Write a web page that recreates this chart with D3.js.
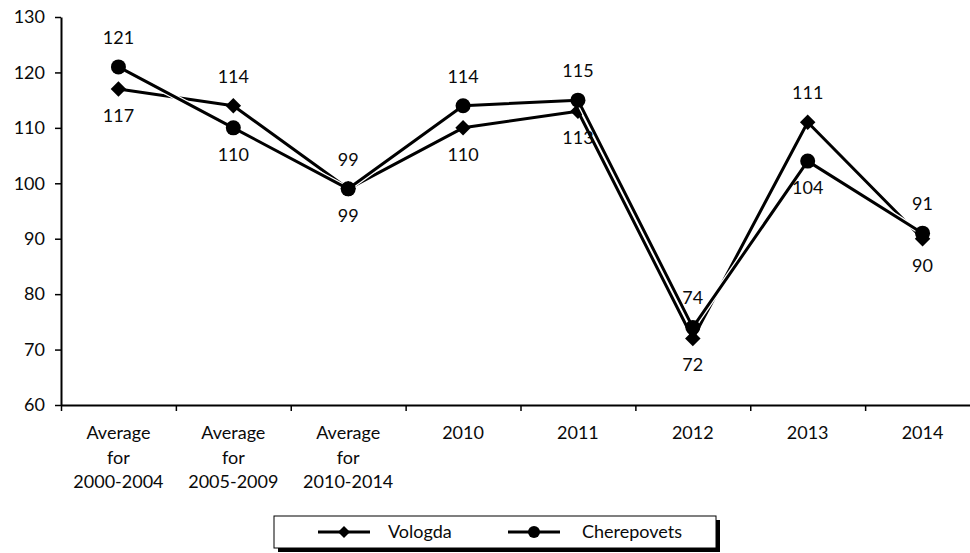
<!DOCTYPE html>
<html>
<head>
<meta charset="utf-8">
<script src="https://cdn.jsdelivr.net/npm/d3@7"></script>
<style>
  html, body { margin: 0; padding: 0; background: #fff; }
  svg { display: block; }
  text { font-family: Lato, "Open Sans", sans-serif; fill: #0a0a0a; }
</style>
</head>
<body>
<svg id="chart" width="970" height="553"></svg>
<script>
// Categories (multi-line labels) and series values
const categories = [
  ["Average", "for", "2000-2004"],
  ["Average", "for", "2005-2009"],
  ["Average", "for", "2010-2014"],
  ["2010"], ["2011"], ["2012"], ["2013"], ["2014"]
];
const vologda     = [117, 114, 99, 110, 113, 72, 111, 90];
const cherepovets = [121, 110, 99, 114, 115, 74, 104, 91];
// Label placement for each point: true = above the marker
const vologdaAbove     = [false, true, false, false, false, false, true, false];
const cherepovetsAbove = [true, false, true, true, true, true, false, true];
const yTicks = [60, 70, 80, 90, 100, 110, 120, 130];

const svg = d3.select("#chart");
const x0 = 61, x1 = 980, yTop = 17, yBot = 405;
const fs = "18px";

const x = d3.scaleBand().domain(d3.range(categories.length)).range([x0, x1]);
const y = d3.scaleLinear().domain([60, 130]).range([yBot, yTop]);
const cx = i => x(i) + x.bandwidth() / 2;

// Y axis
const yAxis = svg.append("g").attr("transform", `translate(${x0},0)`)
  .call(d3.axisLeft(y).tickValues(yTicks).tickSize(6).tickPadding(10).tickSizeOuter(0));
yAxis.select(".domain").attr("stroke", "#000").attr("stroke-width", 2);
yAxis.selectAll(".tick line").attr("stroke", "#000").attr("stroke-width", 1.5);
yAxis.selectAll(".tick text").style("font-size", fs).attr("fill", "#0a0a0a");

// X axis with ticks at category boundaries
const bounds = d3.range(categories.length + 1).map(i => x0 + i * x.step());
const xScaleLin = d3.scaleLinear().domain([x0, x1]).range([x0, x1]);
const xAxis = svg.append("g").attr("transform", `translate(0,${yBot})`)
  .call(d3.axisBottom(xScaleLin).tickValues(bounds).tickSize(6).tickSizeOuter(0).tickFormat(""));
xAxis.select(".domain").attr("stroke", "#000").attr("stroke-width", 2);
xAxis.selectAll(".tick line").attr("stroke", "#000").attr("stroke-width", 1.5);

// Category labels
categories.forEach((lines, i) => {
  const t = svg.append("text").attr("x", cx(i)).attr("y", 439)
    .attr("text-anchor", "middle").style("font-size", fs);
  lines.forEach((l, k) => {
    t.append("tspan").attr("x", cx(i)).attr("dy", k === 0 ? 0 : 24.5).text(l);
  });
});

const line = d3.line().x((d, i) => cx(i)).y(d => y(d));
// Square rotated 45 degrees gives an even diamond
const diamond = d3.symbol().type(d3.symbolSquare).size(120);

function drawSeries(values, marker) {
  const g = svg.append("g");
  g.append("path").datum(values).attr("d", line)
    .attr("fill", "none").attr("stroke", "#fff").attr("stroke-width", 5.5)
    .attr("stroke-linejoin", "round");
  g.append("path").datum(values).attr("d", line)
    .attr("fill", "none").attr("stroke", "#000").attr("stroke-width", 3)
    .attr("stroke-linejoin", "round");
  values.forEach((v, i) => {
    if (marker === "circle") {
      g.append("circle").attr("cx", cx(i)).attr("cy", y(v)).attr("r", 7.5).attr("fill", "#000");
    } else {
      g.append("path").attr("d", diamond)
        .attr("transform", `translate(${cx(i)},${y(v)}) rotate(45)`).attr("fill", "#000");
    }
  });
}
drawSeries(vologda, "diamond");
drawSeries(cherepovets, "circle");

// Value labels
function drawLabels(values, above) {
  values.forEach((v, i) => {
    svg.append("text").attr("x", cx(i))
      .attr("y", above[i] ? y(v) - 23 : y(v) + 33)
      .attr("text-anchor", "middle").style("font-size", fs).text(v);
  });
}
drawLabels(vologda, vologdaAbove);
drawLabels(cherepovets, cherepovetsAbove);

// Legend with drop shadow
const lg = svg.append("g");
lg.append("rect").attr("x", 278).attr("y", 520).attr("width", 442).attr("height", 32).attr("fill", "#000");
lg.append("rect").attr("x", 274).attr("y", 516).attr("width", 442).attr("height", 32)
  .attr("fill", "#fff").attr("stroke", "#000").attr("stroke-width", 1);
const legendItems = [
  { name: "Vologda", marker: "diamond", lx: 318, tx: 388 },
  { name: "Cherepovets", marker: "circle", lx: 508, tx: 582 }
];
legendItems.forEach(d => {
  lg.append("line").attr("x1", d.lx).attr("x2", d.lx + 52).attr("y1", 532).attr("y2", 532)
    .attr("stroke", "#000").attr("stroke-width", 3);
  if (d.marker === "circle") {
    lg.append("circle").attr("cx", d.lx + 26).attr("cy", 532).attr("r", 6).attr("fill", "#000");
  } else {
    lg.append("path").attr("d", d3.symbol().type(d3.symbolSquare).size(72))
      .attr("transform", `translate(${d.lx + 26},532) rotate(45)`).attr("fill", "#000");
  }
  lg.append("text").attr("x", d.tx).attr("y", 538).style("font-size", fs).text(d.name);
});
</script>
</body>
</html>
